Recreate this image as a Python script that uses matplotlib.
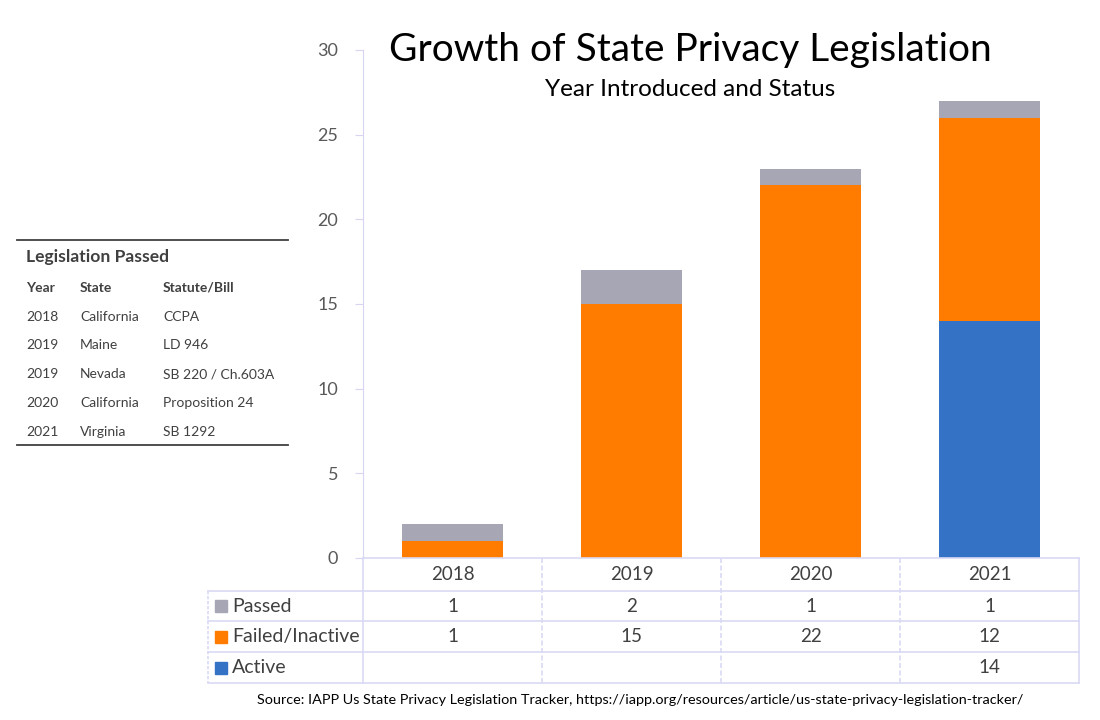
import matplotlib
matplotlib.use("Agg")
import matplotlib.pyplot as plt
from matplotlib.lines import Line2D
from matplotlib.patches import Rectangle

years = ["2018", "2019", "2020", "2021"]
active = [0, 0, 0, 14]
failed = [1, 15, 22, 12]
passed = [1, 2, 1, 1]
series_names = ["Passed", "Failed/Inactive", "Active"]
series_colors = ["#a6a6b4", "#ff7c00", "#3372c4"]

leg_rows_year = ["2018", "2019", "2019", "2020", "2021"]
leg_rows_state = ["California", "Maine", "Nevada", "California", "Virginia"]
leg_rows_bill = ["CCPA", "LD 946", "SB 220 / Ch.603A", "Proposition 24", "SB 1292"]

FONT = ["Lato", "DejaVu Sans"]
plt.rcParams['font.family'] = FONT

W, H = 1100, 720
fig = plt.figure(figsize=(11, 7.2), dpi=100)

def fx(px):
    return px / W

def fy(py):
    return 1 - py / H

ax_l, ax_r, ax_t, ax_b = 363, 1079, 50, 558
ax = fig.add_axes([fx(ax_l), fy(ax_b), (ax_r - ax_l) / W, (ax_b - ax_t) / H])
x = list(range(len(years)))
bw = 0.56
ax.bar(x, active, bw, color=series_colors[2], zorder=2)
ax.bar(x, failed, bw, bottom=active, color=series_colors[1], zorder=2)
bot2 = [a + f for a, f in zip(active, failed)]
ax.bar(x, passed, bw, bottom=bot2, color=series_colors[0], zorder=2)
ax.set_xlim(-0.5, len(years) - 0.5)
ax.set_ylim(0, 30)
ax.set_yticks(range(0, 31, 5))
ax.set_xticks([])
for s in ["top", "right", "bottom"]:
    ax.spines[s].set_visible(False)
ax.spines["left"].set_color("#d6d6f2")
ax.spines["left"].set_linestyle((0, (2, 1)))
ax.tick_params(axis="y", colors="#d6d6f2", labelcolor="#595959", labelsize=13,
               length=6, pad=12)

# Data table
line_c = "#d9d9f5"
col_x = [ax_l + i * (ax_r - ax_l) / len(years) for i in range(len(years) + 1)]
row_y = [558, 591, 621, 652, 683]
tbl_left = 208

def hline(y, x0, x1, ls="-"):
    fig.add_artist(Line2D([fx(x0), fx(x1)], [fy(y), fy(y)], color=line_c, lw=1.2, ls=ls))

def vline(xp, y0, y1, ls="-"):
    fig.add_artist(Line2D([fx(xp), fx(xp)], [fy(y0), fy(y1)], color=line_c, lw=1.2, ls=ls))

hline(row_y[0], ax_l, ax_r)
for y in row_y[1:]:
    hline(y, tbl_left, ax_r)
vline(tbl_left, row_y[1], row_y[-1], ls=(0, (2, 1)))
for i, cx in enumerate(col_x):
    vline(cx, row_y[0], row_y[-1], ls="-" if i in (0, len(col_x) - 1) else (0, (3, 1.5)))

txt_c = "#404040"
for i, yr in enumerate(years):
    cx = (col_x[i] + col_x[i + 1]) / 2
    fig.text(fx(cx), fy((row_y[0] + row_y[1]) / 2), yr, ha="center", va="center",
             fontsize=13.5, color=txt_c)

table_vals = [passed, failed, active]
for r, (name, col, vals) in enumerate(zip(series_names, series_colors, table_vals)):
    yc = (row_y[r + 1] + row_y[r + 2]) / 2
    fig.add_artist(Rectangle((fx(215), fy(yc + 6)), 12 / W, 12 / H, color=col,
                             transform=fig.transFigure))
    fig.text(fx(232), fy(yc), name, ha="left", va="center", fontsize=14, color=txt_c)
    for i, v in enumerate(vals):
        if v:
            cx = (col_x[i] + col_x[i + 1]) / 2
            fig.text(fx(cx), fy(yc), str(v), ha="center", va="center",
                     fontsize=13.5, color=txt_c)

# Titles
fig.text(fx(690), fy(50), "Growth of State Privacy Legislation", ha="center", va="center",
         fontsize=28, color="black")
fig.text(fx(690), fy(90), "Year Introduced and Status", ha="center", va="center",
         fontsize=17.5, color="black")
fig.text(fx(640), fy(700), "Source: IAPP Us State Privacy Legislation Tracker, "
         "https://iapp.org/resources/article/us-state-privacy-legislation-tracker/",
         ha="center", va="center", fontsize=10.4, color="black")

# Left legislation table
dark = "#404040"
fig.add_artist(Line2D([fx(17), fx(288)], [fy(240), fy(240)], color=dark, lw=1.3))
fig.add_artist(Line2D([fx(17), fx(288)], [fy(445), fy(445)], color=dark, lw=1.3))
fig.text(fx(26), fy(257), "Legislation Passed", ha="left", va="center",
         fontsize=12.6, fontweight="bold", color=dark)
cols = [26, 80, 163]
for cxp, h in zip(cols, ["Year", "State", "Statute/Bill"]):
    fig.text(fx(cxp), fy(288), h, ha="left", va="center", fontsize=10,
             fontweight="bold", color=dark)
row_py = [317, 345, 374, 403, 432]
for py, a, b, c in zip(row_py, leg_rows_year, leg_rows_state, leg_rows_bill):
    for cxp, t in zip(cols, [a, b, c]):
        fig.text(fx(cxp), fy(py), t, ha="left", va="center", fontsize=10, color=dark)

fig.savefig("out.png", dpi=100)
